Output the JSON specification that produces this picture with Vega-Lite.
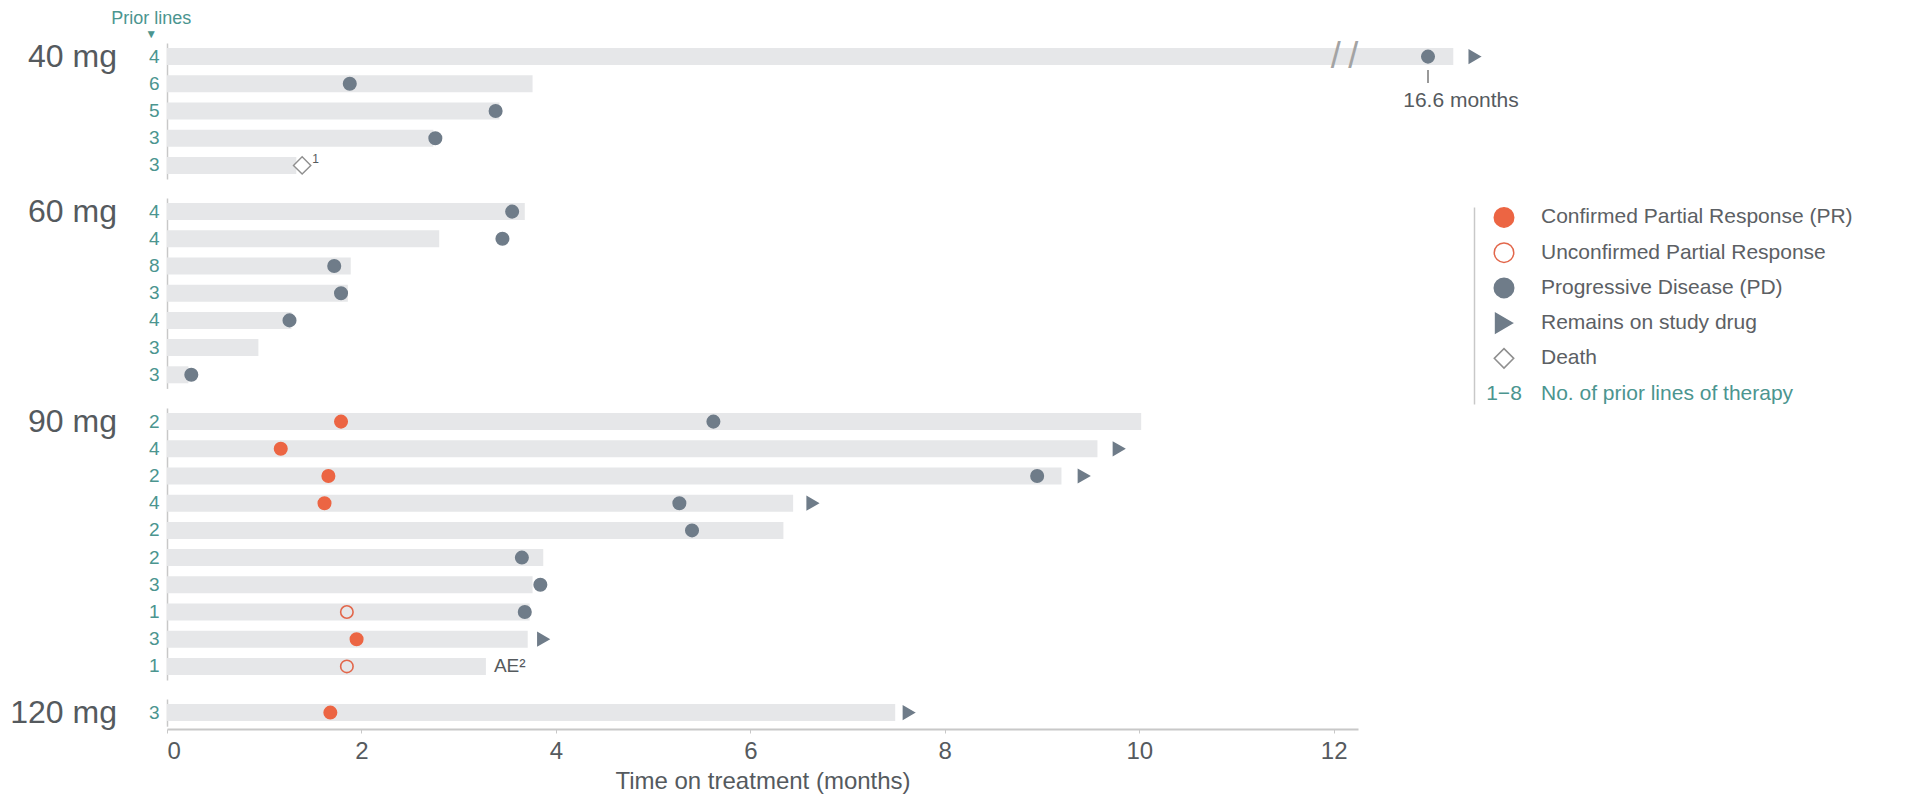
{
  "$schema": "https://vega.github.io/schema/vega-lite/v6.json",
  "background": "white",
  "padding": {"left": 10, "top": 9, "right": 5, "bottom": 2},
  "config": {"font": "Liberation Sans", "view": {"stroke": null}, "axis": {"grid": false}},
  "title": {"text": "Prior lines", "subtitle": "▼", "anchor": "start", "align": "center", "dx": 141, "fontSize": 18, "fontWeight": "normal", "color": "#4b958f", "subtitleColor": "#4b958f", "subtitleFontSize": 12, "subtitlePadding": 1, "offset": -1},
  "spacing": 1307,
  "bounds": "flush",
  "hconcat": [
    {
      "data": {"values": [
        {"dose": "40 mg", "row": "a01|4", "kind": "bar", "t": 13.23},
        {"dose": "40 mg", "row": "a01|4", "kind": "dose", "t": 0, "note": "40 mg"},
        {"dose": "40 mg", "row": "a01|4", "kind": "break", "t": 12.02},
        {"dose": "40 mg", "row": "a01|4", "kind": "break", "t": 12.2},
        {"dose": "40 mg", "row": "a01|4", "kind": "PD", "t": 12.97},
        {"dose": "40 mg", "row": "a01|4", "kind": "Ongoing", "t": 13.45},
        {"dose": "40 mg", "row": "a01|4", "kind": "leader", "t": 12.97},
        {"dose": "40 mg", "row": "a01|4", "kind": "below", "t": 12.97, "note": "16.6 months"},
        {"dose": "40 mg", "row": "a02|6", "kind": "bar", "t": 3.76},
        {"dose": "40 mg", "row": "a02|6", "kind": "PD", "t": 1.88},
        {"dose": "40 mg", "row": "a03|5", "kind": "bar", "t": 3.42},
        {"dose": "40 mg", "row": "a03|5", "kind": "PD", "t": 3.38},
        {"dose": "40 mg", "row": "a04|3", "kind": "bar", "t": 2.74},
        {"dose": "40 mg", "row": "a04|3", "kind": "PD", "t": 2.76},
        {"dose": "40 mg", "row": "a05|3", "kind": "bar", "t": 1.33},
        {"dose": "40 mg", "row": "a05|3", "kind": "Death", "t": 1.39},
        {"dose": "40 mg", "row": "a05|3", "kind": "sup", "t": 1.39, "note": "1"},
        {"dose": "60 mg", "row": "b01|4", "kind": "bar", "t": 3.68},
        {"dose": "60 mg", "row": "b01|4", "kind": "dose", "t": 0, "note": "60 mg"},
        {"dose": "60 mg", "row": "b01|4", "kind": "PD", "t": 3.55},
        {"dose": "60 mg", "row": "b02|4", "kind": "bar", "t": 2.8},
        {"dose": "60 mg", "row": "b02|4", "kind": "PD", "t": 3.45},
        {"dose": "60 mg", "row": "b03|8", "kind": "bar", "t": 1.89},
        {"dose": "60 mg", "row": "b03|8", "kind": "PD", "t": 1.72},
        {"dose": "60 mg", "row": "b04|3", "kind": "bar", "t": 1.86},
        {"dose": "60 mg", "row": "b04|3", "kind": "PD", "t": 1.79},
        {"dose": "60 mg", "row": "b05|4", "kind": "bar", "t": 1.28},
        {"dose": "60 mg", "row": "b05|4", "kind": "PD", "t": 1.26},
        {"dose": "60 mg", "row": "b06|3", "kind": "bar", "t": 0.94},
        {"dose": "60 mg", "row": "b07|3", "kind": "bar", "t": 0.22},
        {"dose": "60 mg", "row": "b07|3", "kind": "PD", "t": 0.25},
        {"dose": "90 mg", "row": "c01|2", "kind": "bar", "t": 10.02},
        {"dose": "90 mg", "row": "c01|2", "kind": "dose", "t": 0, "note": "90 mg"},
        {"dose": "90 mg", "row": "c01|2", "kind": "PR", "t": 1.79},
        {"dose": "90 mg", "row": "c01|2", "kind": "PD", "t": 5.62},
        {"dose": "90 mg", "row": "c02|4", "kind": "bar", "t": 9.57},
        {"dose": "90 mg", "row": "c02|4", "kind": "PR", "t": 1.17},
        {"dose": "90 mg", "row": "c02|4", "kind": "Ongoing", "t": 9.79},
        {"dose": "90 mg", "row": "c03|2", "kind": "bar", "t": 9.2},
        {"dose": "90 mg", "row": "c03|2", "kind": "PR", "t": 1.66},
        {"dose": "90 mg", "row": "c03|2", "kind": "PD", "t": 8.95},
        {"dose": "90 mg", "row": "c03|2", "kind": "Ongoing", "t": 9.43},
        {"dose": "90 mg", "row": "c04|4", "kind": "bar", "t": 6.44},
        {"dose": "90 mg", "row": "c04|4", "kind": "PR", "t": 1.62},
        {"dose": "90 mg", "row": "c04|4", "kind": "PD", "t": 5.27},
        {"dose": "90 mg", "row": "c04|4", "kind": "Ongoing", "t": 6.64},
        {"dose": "90 mg", "row": "c05|2", "kind": "bar", "t": 6.34},
        {"dose": "90 mg", "row": "c05|2", "kind": "PD", "t": 5.4},
        {"dose": "90 mg", "row": "c06|2", "kind": "bar", "t": 3.87},
        {"dose": "90 mg", "row": "c06|2", "kind": "PD", "t": 3.65},
        {"dose": "90 mg", "row": "c07|3", "kind": "bar", "t": 3.76},
        {"dose": "90 mg", "row": "c07|3", "kind": "PD", "t": 3.84},
        {"dose": "90 mg", "row": "c08|1", "kind": "bar", "t": 3.73},
        {"dose": "90 mg", "row": "c08|1", "kind": "uPR", "t": 1.85},
        {"dose": "90 mg", "row": "c08|1", "kind": "PD", "t": 3.68},
        {"dose": "90 mg", "row": "c09|3", "kind": "bar", "t": 3.71},
        {"dose": "90 mg", "row": "c09|3", "kind": "PR", "t": 1.95},
        {"dose": "90 mg", "row": "c09|3", "kind": "Ongoing", "t": 3.87},
        {"dose": "90 mg", "row": "c10|1", "kind": "bar", "t": 3.28},
        {"dose": "90 mg", "row": "c10|1", "kind": "uPR", "t": 1.85},
        {"dose": "90 mg", "row": "c10|1", "kind": "right", "t": 3.28, "note": "AE²"},
        {"dose": "120 mg", "row": "d01|3", "kind": "bar", "t": 7.49},
        {"dose": "120 mg", "row": "d01|3", "kind": "dose", "t": 0, "note": "120 mg"},
        {"dose": "120 mg", "row": "d01|3", "kind": "PR", "t": 1.68},
        {"dose": "120 mg", "row": "d01|3", "kind": "Ongoing", "t": 7.63}
      ]},
      "facet": {"row": {"field": "dose", "type": "nominal", "sort": ["40 mg", "60 mg", "90 mg", "120 mg"], "title": null, "header": {"labels": false}}},
      "spacing": {"row": 16},
      "resolve": {"scale": {"y": "independent"}},
      "spec": {
        "width": 1191,
        "height": {"step": 27.2},
        "encoding": {
          "y": {"field": "row", "type": "nominal", "scale": {"paddingInner": 0.375, "paddingOuter": 0.1875},
            "axis": {"title": null, "labelExpr": "split(datum.value, '|')[1]", "labelColor": "#4b958f", "labelFontSize": 19, "ticks": false, "labelPadding": 8, "domainColor": "#c8c8c8", "domainWidth": 1.5}},
          "x": {"field": "t", "type": "quantitative", "scale": {"domain": [0, 12.25], "nice": false},
            "axis": {"values": [0, 2, 4, 6, 8, 10, 12], "title": "Time on treatment (months)", "titleFontSize": 24, "titleFontWeight": "normal", "titleColor": "#555a5e", "labelFontSize": 24, "labelColor": "#555a5e", "domainColor": "#c8c8c8", "domainWidth": 2, "tickColor": "#c8c8c8", "tickSize": 4, "labelPadding": 6, "titlePadding": 6, "offset": 0}}
        },
        "layer": [
          {"transform": [{"filter": "datum.kind === 'bar'"}], "mark": {"type": "bar", "color": "#e6e7e9"}},
          {"transform": [{"filter": "datum.kind === 'break'"}], "mark": {"type": "text", "text": "/", "fontSize": 36, "color": "#a3a3a3", "baseline": "middle"}},
          {"transform": [{"filter": "datum.kind === 'PR' || datum.kind === 'uPR' || datum.kind === 'PD' || datum.kind === 'Ongoing'"}],
            "mark": {"type": "point", "opacity": 1, "size": 155, "strokeWidth": 1.6},
            "encoding": {
              "shape": {"field": "kind", "type": "nominal", "scale": {"domain": ["PR", "uPR", "PD", "Ongoing", "Death"], "range": ["circle", "circle", "circle", "triangle-right", "diamond"]}, "legend": null},
              "fill": {"field": "kind", "type": "nominal", "scale": {"domain": ["PR", "uPR", "PD", "Ongoing", "Death"], "range": ["#ec6543", "transparent", "#6f7c89", "#6f7c89", "#ffffff"]}, "legend": null},
              "stroke": {"field": "kind", "type": "nominal", "scale": {"domain": ["PR", "uPR", "PD", "Ongoing", "Death"], "range": ["#ec6543", "#e2674b", "#6f7c89", "#6f7c89", "#8f8f8f"]}, "legend": null}
            }},
          {"transform": [{"filter": "datum.kind === 'Death'"}],
            "mark": {"type": "point", "opacity": 1, "size": 300, "strokeWidth": 1.4},
            "encoding": {
              "shape": {"field": "kind", "type": "nominal", "legend": null},
              "fill": {"field": "kind", "type": "nominal", "legend": null},
              "stroke": {"field": "kind", "type": "nominal", "legend": null}
            }},
          {"transform": [{"filter": "datum.kind === 'leader'"}], "mark": {"type": "point", "shape": "stroke", "angle": 90, "size": 169, "opacity": 1, "stroke": "#777777", "strokeWidth": 1.5, "yOffset": 20}},
          {"transform": [{"filter": "datum.kind === 'below'"}], "mark": {"type": "text", "fontSize": 21, "color": "#555a5e", "dx": 33, "dy": 44}, "encoding": {"text": {"field": "note"}}},
          {"transform": [{"filter": "datum.kind === 'right'"}], "mark": {"type": "text", "align": "left", "fontSize": 19, "dx": 8, "color": "#555a5e"}, "encoding": {"text": {"field": "note"}}},
          {"transform": [{"filter": "datum.kind === 'sup'"}], "mark": {"type": "text", "align": "left", "fontSize": 12, "dx": 10, "dy": -6, "color": "#555a5e"}, "encoding": {"text": {"field": "note"}}},
          {"transform": [{"filter": "datum.kind === 'dose'"}], "mark": {"type": "text", "align": "right", "baseline": "middle", "fontSize": 32, "dx": -50, "color": "#555a5e"}, "encoding": {"text": {"field": "note"}}}
        ]
      }
    },
    {
      "width": 60,
      "height": 362,
      "data": {"values": [
        {"kind": "PR", "label": "Confirmed Partial Response (PR)"},
        {"kind": "uPR", "label": "Unconfirmed Partial Response"},
        {"kind": "PD", "label": "Progressive Disease (PD)"},
        {"kind": "Ongoing", "label": "Remains on study drug"},
        {"kind": "Death", "label": "Death"},
        {"kind": "lines", "label": "No. of prior lines of therapy", "sym": "1−8"}
      ]},
      "encoding": {
        "y": {"field": "label", "type": "nominal", "sort": null, "scale": {"type": "point", "range": [164, 361], "padding": 0.295},
          "axis": {"title": null, "labels": false, "ticks": false, "domainColor": "#c8c8c8", "domainWidth": 1.5}}
      },
      "layer": [
        {"transform": [{"filter": "datum.kind !== 'lines'"}],
          "mark": {"type": "point", "opacity": 1, "size": 380, "strokeWidth": 1.5},
          "encoding": {
            "shape": {"field": "kind", "type": "nominal", "legend": null},
            "fill": {"field": "kind", "type": "nominal", "legend": null},
            "stroke": {"field": "kind", "type": "nominal", "legend": null}
          }},
        {"mark": {"type": "text", "align": "left", "baseline": "middle", "dx": 37, "fontSize": 21},
          "encoding": {"text": {"field": "label"}, "color": {"condition": {"test": "datum.kind === 'lines'", "value": "#4b958f"}, "value": "#5c6064"}}},
        {"transform": [{"filter": "datum.kind === 'lines'"}],
          "mark": {"type": "text", "align": "center", "baseline": "middle", "fontSize": 21, "color": "#4b958f"},
          "encoding": {"text": {"field": "sym"}}}
      ]
    }
  ]
}
